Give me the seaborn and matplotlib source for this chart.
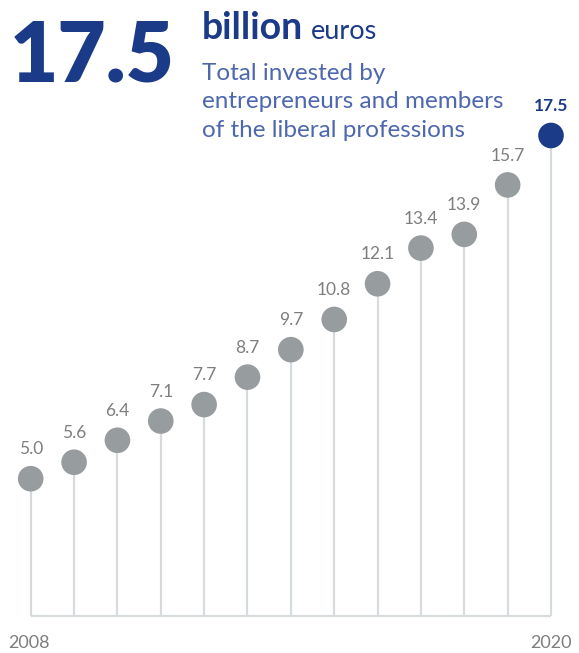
import matplotlib
matplotlib.use("Agg")
import matplotlib.pyplot as plt
import seaborn as sns
import pandas as pd

# Investment totals (billion euros) by year
years = [2008, 2009, 2010, 2011, 2012, 2013, 2014, 2015, 2016, 2017, 2018, 2019, 2020]
values = [5.0, 5.6, 6.4, 7.1, 7.7, 8.7, 9.7, 10.8, 12.1, 13.4, 13.9, 15.7, 17.5]
value_labels = ["5.0", "5.6", "6.4", "7.1", "7.7", "8.7", "9.7", "10.8", "12.1", "13.4", "13.9", "15.7", "17.5"]

headline = "17.5"
unit_bold = "billion"
unit_light = "euros"
subtitle_lines = ["Total invested by", "entrepreneurs and members", "of the liberal professions"]

NAVY = "#1B3A87"
BLUE_TEXT = "#4D68AF"
DOT_GRAY = "#979C9F"
STEM_GRAY = "#D8DBDE"
LABEL_GRAY = "#7E7E7E"

sns.set_style("white")
plt.rcParams["font.family"] = ["Lato", "DejaVu Sans"]

W, H = 579, 653
fig = plt.figure(figsize=(W / 100, H / 100), dpi=100)

# pixel helpers for figure placement
def fx(px):
    return px / W

def fy(py):
    return 1 - py / H

x_left, x_right = 30.7, 551.0
y_zero, y_top = 616.0, 135.5
ax = fig.add_axes([fx(x_left), fy(y_zero), fx(x_right) - fx(x_left), (y_zero - y_top) / H])
ax.set_xlim(years[0], years[-1])
ax.set_ylim(0, values[-1])
ax.axis("off")

df = pd.DataFrame({"year": years, "value": values,
                   "kind": ["past"] * (len(years) - 1) + ["latest"]})

# stems and baseline
ax.vlines(df["year"], 0, df["value"], color=STEM_GRAY, lw=1.6, zorder=1, clip_on=False)
ax.hlines(0, years[0], years[-1], color=STEM_GRAY, lw=1.6, zorder=1, clip_on=False)

sns.scatterplot(data=df, x="year", y="value", hue="kind",
                palette={"past": DOT_GRAY, "latest": NAVY},
                s=340, linewidth=0, legend=False, ax=ax, zorder=3, clip_on=False)

for i, (yr, v, lab) in enumerate(zip(years, values, value_labels)):
    last = i == len(years) - 1
    ax.annotate(lab, (yr, v), xytext=(0, 17.5), textcoords="offset points",
                ha="center", va="baseline", fontsize=12.5,
                color=NAVY if last else LABEL_GRAY,
                fontweight="bold" if last else "normal",
                annotation_clip=False)

# axis end labels
fig.text(fx(29), fy(648), str(years[0]), ha="center", va="baseline",
         fontsize=13, color=LABEL_GRAY)
fig.text(fx(551), fy(648), str(years[-1]), ha="center", va="baseline",
         fontsize=13, color=LABEL_GRAY)

# headline block
fig.text(fx(10), fy(81), headline, ha="left", va="baseline",
         fontsize=60, color=NAVY, fontweight="heavy")
fig.text(fx(202), fy(39), unit_bold, ha="left", va="baseline",
         fontsize=27, color=NAVY, fontweight="bold")
fig.text(fx(311), fy(39), unit_light, ha="left", va="baseline",
         fontsize=19.5, color=NAVY, fontweight="normal")
for k, line in enumerate(subtitle_lines):
    fig.text(fx(202), fy(80 + 28.5 * k), line, ha="left", va="baseline",
             fontsize=17.5, color=BLUE_TEXT, fontweight="normal")

fig.savefig("out.png", dpi=100)
